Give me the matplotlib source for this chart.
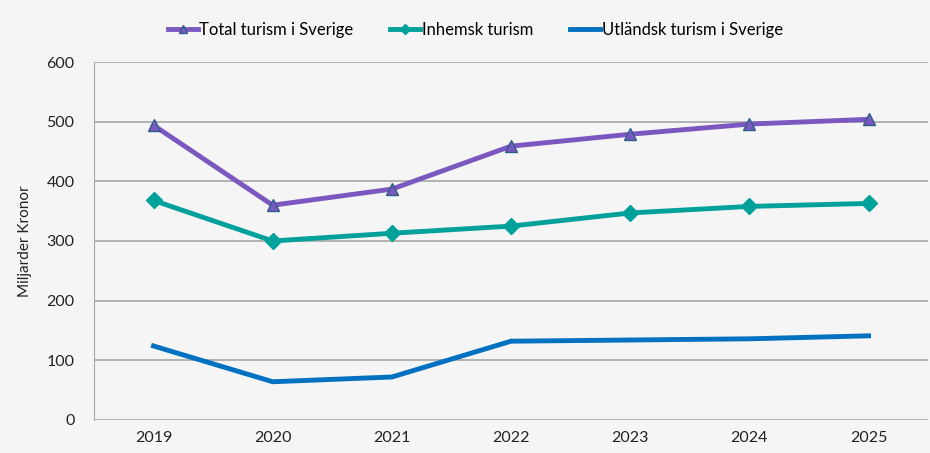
import matplotlib
matplotlib.use("Agg")
import matplotlib.pyplot as plt

years = ["2019", "2020", "2021", "2022", "2023", "2024", "2025"]
total = [494, 360, 387, 459, 479, 496, 504]
inhemsk = [368, 300, 313, 325, 347, 358, 363]
utlandsk = [124, 64, 72, 132, 134, 136, 141]

plt.rcParams['font.family'] = ['Lato', 'DejaVu Sans']
bg = '#f5f5f5'

fig = plt.figure(figsize=(9.3, 4.53), dpi=100, facecolor=bg)
ax = fig.add_axes([0.101, 0.073, 0.897, 0.790], facecolor=bg)

x = range(len(years))
ax.plot(x, total, color='#7b57c0', lw=3.5, marker='^', markersize=9,
        markerfacecolor='#7b57c0', markeredgecolor='#2e5f8a', markeredgewidth=1,
        label="Total turism i Sverige", zorder=4)
ax.plot(x, inhemsk, color='#00a19a', lw=3.5, marker='D', markersize=8,
        label="Inhemsk turism", zorder=3)
ax.plot(x, utlandsk, color='#0070c0', lw=3.5, label="Utländsk turism i Sverige", zorder=3)

ax.set_xlim(-0.5, 6.5)
ax.set_ylim(0, 600)
ax.set_yticks(range(0, 601, 100))
ax.set_xticks(list(x))
ax.set_xticklabels(years)
ax.yaxis.grid(True, color='#a6a6a6', lw=1.2)
ax.set_axisbelow(True)
for s in ['top', 'right', 'bottom']:
    ax.spines[s].set_visible(False)
ax.spines['left'].set_color('#a6a6a6')
ax.tick_params(length=0, labelsize=11.5, colors='#222222')
ax.tick_params(axis='y', pad=14)
ax.tick_params(axis='x', pad=8)
ax.set_ylabel("Miljarder Kronor", fontsize=11, color='#222222', labelpad=10)

ax.legend(loc='center', bbox_to_anchor=(0.457, 1.09), ncol=3, frameon=False,
          fontsize=12, handlelength=1.8, handletextpad=0.1, columnspacing=2.2,
          markerscale=0.65)

plt.savefig("out.png", dpi=100, facecolor=bg)
